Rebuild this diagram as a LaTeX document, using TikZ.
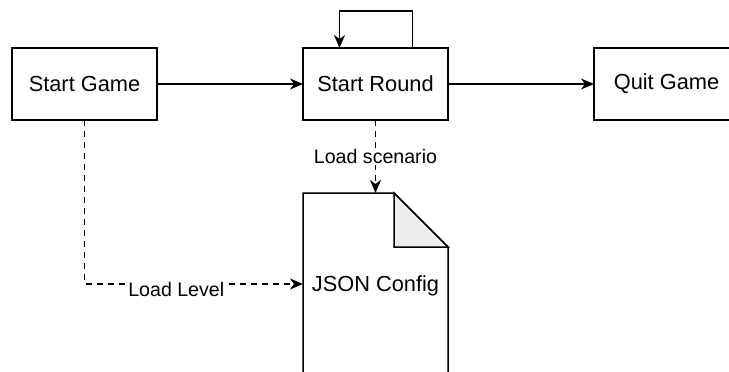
\documentclass[tikz,border=0pt]{standalone}
\usepackage{fontspec}
\setmainfont{Liberation Sans}
\usetikzlibrary{positioning,arrows.meta}

\begin{document}
\begin{tikzpicture}[
    line width=1.5pt,
    arr/.style={-{Stealth[length=13pt,width=11pt,inset=4pt]}},
    dsh/.style={dash pattern=on 6pt off 5pt},
    box/.style={draw,minimum width=145pt,minimum height=72pt,outer sep=0pt,
      font=\fontsize{21.8}{26}\selectfont},
    lbl/.style={fill=white,inner sep=1pt,font=\fontsize{19.6}{23}\selectfont}]
  \useasboundingbox (0,0) rectangle (729pt,-372pt);
  \clip (0,0) rectangle (729pt,-372pt);
  \node[box] (game) at (84.5pt,-84pt) {Start Game};
  \node[box, right=146pt of game] (round) {Start Round};
  \node[box, right=146pt of round] (quit) {Quit Game};
  \node[minimum width=145pt,minimum height=186pt,inner sep=0pt,outer sep=0pt,
    font=\fontsize{21.8}{26}\selectfont, below=73pt of round] (cfg) {JSON Config};
  % config file with folded corner
  \draw (cfg.north west) -- ([xshift=-54pt]cfg.north east)
    -- ([yshift=-54pt]cfg.north east) -- (cfg.south east)
    -- (cfg.south west) -- cycle;
  \filldraw[fill=black!7] ([xshift=-54pt]cfg.north east) -- ++(0,-54pt)
    -- ([yshift=-54pt]cfg.north east) -- cycle;
  \path[arr]
    (game) edge (round)
    (round) edge (quit);
  \draw[arr] ([xshift=37pt]round.north) -- ++(0,37pt) -| ([xshift=-36pt]round.north);
  \draw[arr,dsh] (round.south) -- node[lbl] {Load scenario} (cfg.north);
  \draw[arr,dsh] (game.south) |- ([yshift=2pt]cfg.west)
    node[lbl, pos=0.71, yshift=-5pt] {Load Level};
\end{tikzpicture}
\end{document}
